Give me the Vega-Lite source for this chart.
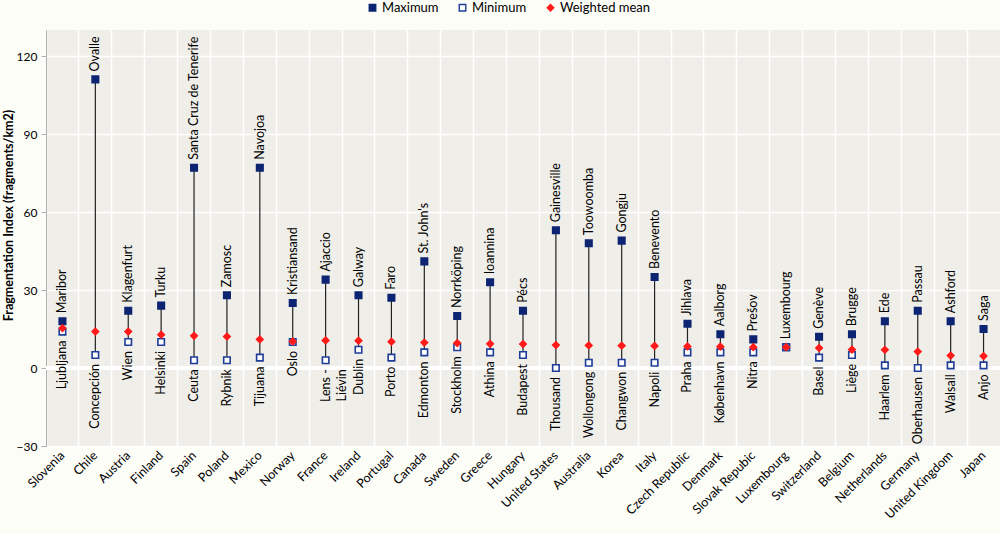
{
  "$schema": "https://vega.github.io/schema/vega-lite/v6.json",
  "autosize": "none",
  "width": 954,
  "height": 416,
  "padding": {"left": 46, "top": 30, "right": 0, "bottom": 88},
  "background": "#fdfdf8",
  "config": {
    "font": "Lato",
    "view": {"fill": "#efeee9", "stroke": null},
    "text": {"lineBreak": "\n"},
    "legend": {
      "title": null, "orient": "none", "direction": "horizontal",
      "legendX": 320, "legendY": -29, "labelFontSize": 13, "labelColor": "#000000",
      "labelFont": "Lato", "columnPadding": 17, "symbolStrokeWidth": 1.4, "labelOffset": 3
    }
  },
  "data": {
    "values": [
      {"country": "Slovenia", "Maximum": 18, "Minimum": 14, "Weighted mean": 15.3, "maxCity": "Maribor", "minCity": "Ljubljana"},
      {"country": "Chile", "Maximum": 111, "Minimum": 5, "Weighted mean": 14, "maxCity": "Ovalle", "minCity": "Concepción"},
      {"country": "Austria", "Maximum": 22, "Minimum": 10, "Weighted mean": 14, "maxCity": "Klagenfurt", "minCity": "Wien"},
      {"country": "Finland", "Maximum": 24, "Minimum": 10, "Weighted mean": 12.8, "maxCity": "Turku", "minCity": "Helsinki"},
      {"country": "Spain", "Maximum": 77, "Minimum": 3, "Weighted mean": 12.4, "maxCity": "Santa Cruz de Tenerife", "minCity": "Ceuta"},
      {"country": "Poland", "Maximum": 28, "Minimum": 3, "Weighted mean": 12.1, "maxCity": "Zamosc", "minCity": "Rybnik"},
      {"country": "Mexico", "Maximum": 77, "Minimum": 4, "Weighted mean": 11, "maxCity": "Navojoa", "minCity": "Tijuana"},
      {"country": "Norway", "Maximum": 25, "Minimum": 10, "Weighted mean": 10.2, "maxCity": "Kristiansand", "minCity": "Oslo"},
      {"country": "France", "Maximum": 34, "Minimum": 3, "Weighted mean": 10.6, "maxCity": "Ajaccio", "minCity": "Lens -\nLiévin"},
      {"country": "Ireland", "Maximum": 28, "Minimum": 7, "Weighted mean": 10.5, "maxCity": "Galway", "minCity": "Dublin"},
      {"country": "Portugal", "Maximum": 27, "Minimum": 4, "Weighted mean": 10.1, "maxCity": "Faro", "minCity": "Porto"},
      {"country": "Canada", "Maximum": 41, "Minimum": 6, "Weighted mean": 9.8, "maxCity": "St. John's", "minCity": "Edmonton"},
      {"country": "Sweden", "Maximum": 20, "Minimum": 8, "Weighted mean": 9.6, "maxCity": "Norrköping", "minCity": "Stockholm"},
      {"country": "Greece", "Maximum": 33, "Minimum": 6, "Weighted mean": 9.3, "maxCity": "Ioannina", "minCity": "Athina"},
      {"country": "Hungary", "Maximum": 22, "Minimum": 5, "Weighted mean": 9.2, "maxCity": "Pécs", "minCity": "Budapest"},
      {"country": "United States", "Maximum": 53, "Minimum": 0, "Weighted mean": 8.8, "maxCity": "Gainesville", "minCity": "Thousand"},
      {"country": "Australia", "Maximum": 48, "Minimum": 2, "Weighted mean": 8.7, "maxCity": "Toowoomba", "minCity": "Wollongong"},
      {"country": "Korea", "Maximum": 49, "Minimum": 2, "Weighted mean": 8.6, "maxCity": "Gongju", "minCity": "Changwon"},
      {"country": "Italy", "Maximum": 35, "Minimum": 2, "Weighted mean": 8.5, "maxCity": "Benevento", "minCity": "Napoli"},
      {"country": "Czech Republic", "Maximum": 17, "Minimum": 6, "Weighted mean": 8.3, "maxCity": "Jihlava", "minCity": "Praha"},
      {"country": "Denmark", "Maximum": 13, "Minimum": 6, "Weighted mean": 8.2, "maxCity": "Aalborg", "minCity": "København"},
      {"country": "Slovak Repubic", "Maximum": 11, "Minimum": 6, "Weighted mean": 8, "maxCity": "Prešov", "minCity": "Nitra"},
      {"country": "Luxembourg", "Maximum": 8, "Minimum": 8, "Weighted mean": 8, "maxCity": "Luxembourg", "minCity": ""},
      {"country": "Switzerland", "Maximum": 12, "Minimum": 4, "Weighted mean": 7.7, "maxCity": "Genève", "minCity": "Basel"},
      {"country": "Belgium", "Maximum": 13, "Minimum": 5, "Weighted mean": 7.1, "maxCity": "Brugge", "minCity": "Liège"},
      {"country": "Netherlands", "Maximum": 18, "Minimum": 1, "Weighted mean": 7, "maxCity": "Ede", "minCity": "Haarlem"},
      {"country": "Germany", "Maximum": 22, "Minimum": 0, "Weighted mean": 6.3, "maxCity": "Passau", "minCity": "Oberhausen"},
      {"country": "United Kingdom", "Maximum": 18, "Minimum": 1, "Weighted mean": 4.8, "maxCity": "Ashford", "minCity": "Walsall"},
      {"country": "Japan", "Maximum": 15, "Minimum": 1, "Weighted mean": 4.6, "maxCity": "Saga", "minCity": "Anjo"}
    ]
  },
  "encoding": {
    "x": {
      "field": "country", "type": "nominal", "sort": null,
      "scale": {"type": "band", "paddingInner": 0, "paddingOuter": 0},
      "axis": {
        "title": null, "domain": false, "ticks": false, "bandPosition": 0,
        "grid": true, "gridColor": "#ffffff", "gridWidth": 1.5,
        "labelAngle": -45, "labelAlign": "right", "labelBaseline": "middle",
        "labelFontSize": 12.5, "labelColor": "#000000", "labelPadding": 7,
        "labelFont": "Lato"
      }
    }
  },
  "layer": [
    {
      "mark": {"type": "rule", "color": "#ffffff", "strokeWidth": 4},
      "encoding": {"y": {"datum": 0, "type": "quantitative"}, "x": null}
    },
    {
      "mark": {"type": "rule", "color": "#222222", "strokeWidth": 1.2},
      "encoding": {
        "y": {
          "field": "Minimum", "type": "quantitative",
          "scale": {"domain": [-30, 130], "nice": false, "zero": false},
          "axis": {
            "values": [-30, 0, 30, 60, 90, 120],
            "title": "Fragmentation Index (fragments/km2)",
            "titleFont": "Lato", "titleFontSize": 12.5, "titleFontWeight": "bold",
            "titleColor": "#000000", "titleAngle": 270, "titleAlign": "center",
            "titleBaseline": "middle", "titleX": -38, "titleY": 185,
            "grid": true, "gridColor": "#ffffff", "gridWidth": 1.5,
            "domain": true, "domainColor": "#b0b0b0",
            "ticks": true, "tickColor": "#b0b0b0", "tickSize": 5,
            "labelFontSize": 12, "labelColor": "#000000", "labelPadding": 4
          }
        },
        "y2": {"field": "Maximum"}
      }
    },
    {
      "transform": [{"fold": ["Maximum", "Minimum", "Weighted mean"], "as": ["series", "value"]}],
      "mark": {"type": "point", "filled": true, "strokeWidth": 1.6, "opacity": 1},
      "encoding": {
        "y": {"field": "value", "type": "quantitative"},
        "shape": {
          "field": "series", "type": "nominal",
          "scale": {"domain": ["Maximum", "Minimum", "Weighted mean"], "range": ["square", "square", "diamond"]}
        },
        "fill": {
          "field": "series", "type": "nominal",
          "scale": {"domain": ["Maximum", "Minimum", "Weighted mean"], "range": ["#0d2473", "#ffffff", "#ff1a1a"]}
        },
        "stroke": {
          "field": "series", "type": "nominal",
          "scale": {"domain": ["Maximum", "Minimum", "Weighted mean"], "range": ["#0d2473", "#1f3c99", "#ff1a1a"]}
        },
        "size": {
          "field": "series", "type": "nominal",
          "scale": {"domain": ["Maximum", "Minimum", "Weighted mean"], "range": [42, 42, 16]}
        }
      }
    },
    {
      "mark": {"type": "text", "angle": 270, "align": "left", "baseline": "middle", "dx": 8, "fontSize": 12.5, "font": "Lato", "color": "#000000"},
      "encoding": {
        "y": {"field": "Maximum", "type": "quantitative"},
        "text": {"field": "maxCity"}
      }
    },
    {
      "mark": {"type": "text", "angle": 270, "align": "right", "baseline": "middle", "dx": -9, "fontSize": 12.5, "font": "Lato", "color": "#000000", "lineHeight": 16},
      "encoding": {
        "y": {"field": "Minimum", "type": "quantitative"},
        "text": {"field": "minCity"}
      }
    }
  ]
}
